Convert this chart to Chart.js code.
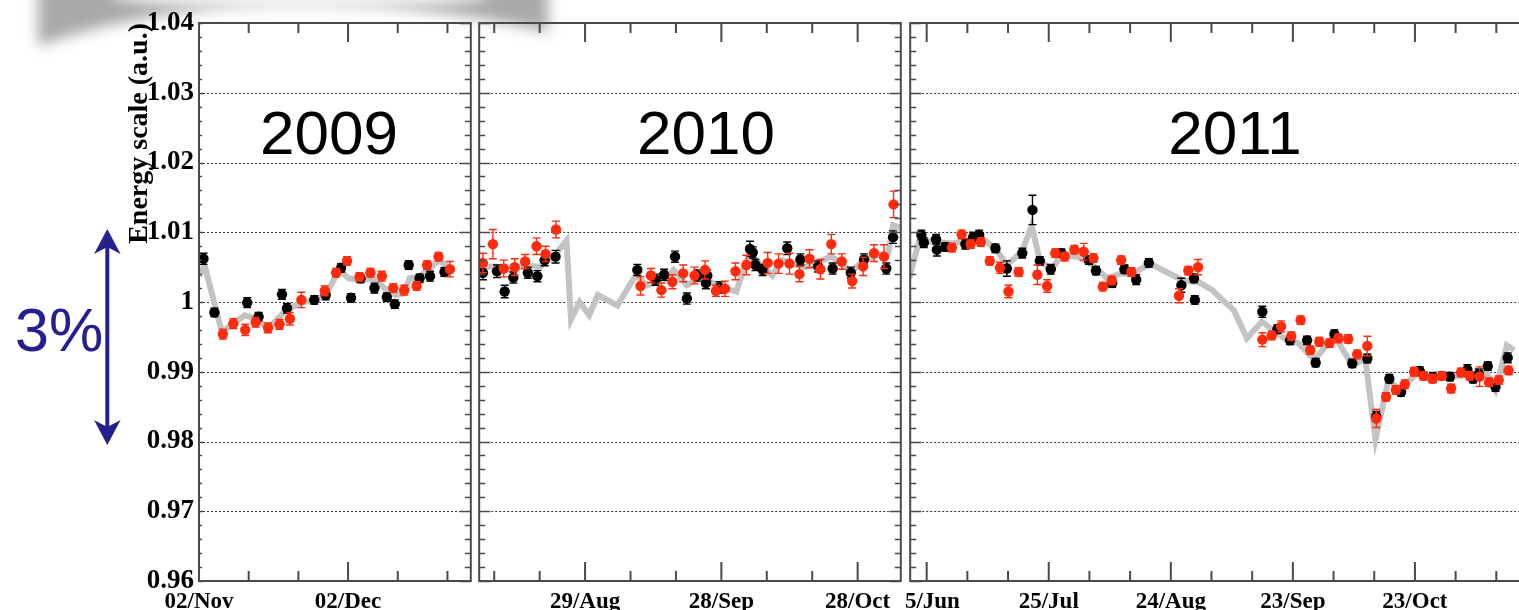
<!DOCTYPE html>
<html>
<head>
<meta charset="utf-8">
<title>Energy scale stability 2009–2011</title>
<script src="https://cdn.jsdelivr.net/npm/chart.js@4.4.1/dist/chart.umd.min.js"></script>
<style>
  html, body { margin: 0; padding: 0; background: #fff; }
  body { position: relative; width: 1519px; height: 610px; overflow: hidden; }
  .layer { position: absolute; top: 0; }
  canvas { position: absolute; top: 0; }
  .year { position: absolute; top: 102px; font: 62px "Liberation Sans", Arial, sans-serif; line-height: 62px; color: #000; transform: translateX(-50%); white-space: nowrap; }
  #spread { position: absolute; left: 15px; top: 300px; font: 61px "Liberation Sans", Arial, sans-serif; line-height: 61px; color: #24208e; }
</style>
</head>
<body>
<svg class="layer" width="640" height="110" style="left:0">
  <defs>
    <filter id="soft" x="-20%" y="-100%" width="140%" height="300%"><feGaussianBlur stdDeviation="7"/></filter>
    <filter id="softer" x="-20%" y="-200%" width="140%" height="500%"><feGaussianBlur stdDeviation="6"/></filter>
  </defs>
  <path d="M38 -20 H548 V32 Q430 4 300 4 Q160 4 38 46 Z" fill="#a9a9a9" filter="url(#soft)"/>
  <ellipse cx="300" cy="-4" rx="190" ry="12" fill="#ffffff" opacity="0.85" filter="url(#softer)"/>
</svg>

<canvas id="c2009" width="476" height="610" style="left:0px"></canvas>
<canvas id="c2010" width="432" height="610" style="left:474px"></canvas>
<canvas id="c2011" width="640" height="610" style="left:905px"></canvas>

<svg class="layer" width="140" height="610" style="left:0">
  <g fill="#24208e">
    <rect x="105.3" y="245" width="4" height="184"/>
    <polygon points="107.3,229 94,254 107.3,247 120.6,254"/>
    <polygon points="107.3,445 94,420 107.3,427 120.6,420"/>
  </g>
</svg>
<div id="spread">3%</div>
<div class="year" style="left:329px">2009</div>
<div class="year" style="left:706px">2010</div>
<div class="year" style="left:1235px">2011</div>

<script>
// ---- 2009 run: x = days after 02/Nov/2009 ----
const days2009Black  = [0.9, 3.1, 9.7, 12.0, 16.7, 17.7, 23.2, 25.5, 28.6, 30.6, 32.5, 35.3, 37.8, 39.4, 42.2, 44.4, 46.5, 49.4];
const scale2009Black = [1.0062, 0.9985, 0.9999, 0.9979, 1.0011, 0.9991, 1.0003, 1.0010, 1.0049, 1.0006, 1.0034, 1.0020, 1.0007, 0.9997, 1.0053, 1.0034, 1.0037, 1.0043];
const err2009Black   = [0.0008, 0.0006, 0.0007, 0.0006, 0.0007, 0.0007, 0.0006, 0.0007, 0.0006, 0.0006, 0.0006, 0.0007, 0.0006, 0.0006, 0.0006, 0.0006, 0.0007, 0.0006];
const days2009Red    = [4.8, 6.9, 9.3, 11.4, 13.9, 16.2, 18.3, 20.6, 25.3, 27.6, 29.8, 32.3, 34.5, 36.8, 39.1, 41.3, 43.8, 45.9, 48.2, 50.5];
const scale2009Red   = [0.9954, 0.9969, 0.9960, 0.9971, 0.9963, 0.9968, 0.9976, 1.0003, 1.0016, 1.0042, 1.0059, 1.0036, 1.0042, 1.0037, 1.0020, 1.0017, 1.0023, 1.0053, 1.0065, 1.0047];
const err2009Red     = [0.0007, 0.0007, 0.0008, 0.0007, 0.0007, 0.0007, 0.0009, 0.0011, 0.0007, 0.0006, 0.0006, 0.0006, 0.0006, 0.0007, 0.0006, 0.0007, 0.0006, 0.0006, 0.0006, 0.0011];
const days2009Ref    = [0, 1.1, 4.6, 9.2, 11.6, 13.9, 17.5, 20.2, 23.2, 25.5, 28.2, 30.1, 32.8, 34.8, 37.5, 39.5, 41.1, 42.4, 44.4, 46.7, 48.4, 50.7];
const scale2009Ref   = [1.0037, 1.0053, 0.9957, 0.9981, 0.9976, 0.9962, 0.9988, 0.9998, 1.0003, 1.0010, 1.0046, 1.0034, 1.0031, 1.0034, 1.0019, 1.0010, 1.0012, 1.0034, 1.0036, 1.0050, 1.0060, 1.0046];
const ticks2009Days  = [0, 30];
const ticks2009Text  = ['02/Nov', '02/Dec'];
const minor2009Days  = [10, 20, 40, 50];

// ---- 2010 run: x = days after 29/Aug/2010 ----
const days2010Black  = [-22.5, -19.4, -17.7, -15.8, -12.6, -10.5, -8.9, -6.5, 11.5, 15.5, 17.4, 19.8, 22.4, 24.7, 26.6, 26.9, 29.6, 36.3, 36.9, 37.5, 39.1, 44.5, 47.4, 51.3, 54.5, 58.5, 61.4, 66.3, 67.8];
const scale2010Black = [1.0042, 1.0044, 1.0015, 1.0035, 1.0042, 1.0037, 1.0060, 1.0065, 1.0046, 1.0032, 1.0039, 1.0065, 1.0005, 1.0038, 1.0027, 1.0038, 1.0021, 1.0076, 1.0071, 1.0053, 1.0046, 1.0077, 1.0061, 1.0051, 1.0048, 1.0042, 1.0061, 1.0048, 1.0093];
const err2010Black   = [0.0010, 0.0009, 0.0009, 0.0008, 0.0008, 0.0008, 0.0008, 0.0009, 0.0008, 0.0008, 0.0008, 0.0008, 0.0008, 0.0008, 0.0008, 0.0008, 0.0008, 0.0011, 0.0008, 0.0008, 0.0008, 0.0009, 0.0008, 0.0008, 0.0008, 0.0008, 0.0008, 0.0008, 0.0009];
const days2010Red    = [-22.5, -20.3, -17.9, -15.5, -13.2, -10.7, -8.7, -6.4, 12.2, 14.5, 16.8, 19.2, 21.6, 24.1, 26.4, 28.8, 30.8, 33.1, 35.5, 40.2, 42.6, 45.0, 47.2, 49.4, 51.8, 54.2, 56.5, 58.8, 61.2, 63.6, 65.8, 67.9];
const scale2010Red   = [1.0056, 1.0083, 1.0048, 1.0050, 1.0058, 1.0080, 1.0069, 1.0104, 1.0023, 1.0038, 1.0017, 1.0029, 1.0041, 1.0038, 1.0046, 1.0016, 1.0019, 1.0044, 1.0053, 1.0056, 1.0055, 1.0055, 1.0040, 1.0062, 1.0047, 1.0083, 1.0058, 1.0030, 1.0051, 1.0070, 1.0065, 1.0140];
const err2010Red     = [0.0014, 0.0021, 0.0012, 0.0012, 0.0010, 0.0012, 0.0011, 0.0012, 0.0013, 0.0010, 0.0010, 0.0010, 0.0012, 0.0012, 0.0013, 0.0008, 0.0011, 0.0012, 0.0014, 0.0015, 0.0014, 0.0015, 0.0011, 0.0013, 0.0014, 0.0014, 0.0011, 0.0010, 0.0013, 0.0012, 0.0017, 0.0019];
const days2010Ref    = [-23.4, -19.8, -15.8, -12.9, -10.0, -6.7, -4.1, -3.1, -1.2, 0.9, 2.8, 7.1, 11.1, 13.7, 17.3, 19.5, 22.4, 25.6, 29.6, 33.3, 35.5, 37.6, 41.2, 43.4, 48.5, 54.3, 58.7, 61.2, 64.5, 66.7, 67.8, 70.0];
const scale2010Ref   = [1.0050, 1.0051, 1.0046, 1.0053, 1.0050, 1.0067, 1.0088, 0.9975, 1.0000, 0.9981, 1.0010, 0.9995, 1.0038, 1.0024, 1.0031, 1.0046, 1.0024, 1.0036, 1.0022, 1.0015, 1.0058, 1.0060, 1.0038, 1.0060, 1.0050, 1.0065, 1.0043, 1.0060, 1.0067, 1.0070, 1.0110, 1.0105];
const ticks2010Days  = [0, 30, 60];
const ticks2010Text  = ['29/Aug', '28/Sep', '28/Oct'];
const minor2010Days  = [-20, -10, 10, 20, 40, 50];

// ---- 2011 run: x = days after 25/Jun/2011 ----
const days2011Black  = [-1.3, -0.7, 2.3, 2.5, 4.6, 9.5, 11.4, 12.9, 16.9, 19.7, 23.5, 26.0, 27.8, 30.5, 33.1, 39.9, 41.6, 45.6, 48.6, 51.5, 54.6, 62.6, 65.7, 65.9, 82.5, 86.2, 89.3, 93.5, 95.6, 100.2, 104.6, 108.3, 110.5, 113.7, 116.6, 121.2, 124.4, 128.6, 132.9, 134.3, 135.7, 137.9, 139.8, 142.8];
const scale2011Black = [1.0096, 1.0085, 1.0090, 1.0075, 1.0079, 1.0083, 1.0093, 1.0096, 1.0077, 1.0048, 1.0070, 1.0132, 1.0059, 1.0047, 1.0070, 1.0060, 1.0045, 1.0027, 1.0047, 1.0032, 1.0056, 1.0024, 1.0034, 1.0003, 0.9986, 0.9961, 0.9945, 0.9945, 0.9913, 0.9954, 0.9912, 0.9919, 0.9836, 0.9890, 0.9871, 0.9901, 0.9892, 0.9893, 0.9903, 0.9890, 0.9897, 0.9908, 0.9878, 0.9920];
const err2011Black   = [0.0007, 0.0007, 0.0007, 0.0009, 0.0006, 0.0007, 0.0007, 0.0007, 0.0006, 0.0011, 0.0007, 0.0021, 0.0006, 0.0007, 0.0006, 0.0006, 0.0006, 0.0006, 0.0006, 0.0007, 0.0006, 0.0010, 0.0006, 0.0006, 0.0008, 0.0006, 0.0006, 0.0006, 0.0006, 0.0006, 0.0006, 0.0006, 0.0007, 0.0006, 0.0006, 0.0006, 0.0007, 0.0006, 0.0007, 0.0006, 0.0007, 0.0006, 0.0006, 0.0007];
const days2011Red    = [6.2, 8.6, 10.8, 13.3, 15.5, 18.0, 20.1, 22.6, 27.2, 29.6, 31.6, 33.9, 36.3, 38.6, 41.0, 43.3, 45.5, 47.8, 50.3, 62.0, 64.3, 66.7, 82.5, 84.8, 87.1, 89.6, 91.9, 94.3, 96.5, 99.0, 101.2, 103.6, 105.8, 108.3, 110.5, 112.9, 115.3, 117.5, 119.8, 122.1, 124.3, 126.6, 128.9, 131.3, 133.5, 135.9, 138.2, 140.6, 143.0];
const scale2011Red   = [1.0078, 1.0097, 1.0083, 1.0086, 1.0059, 1.0049, 1.0015, 1.0043, 1.0039, 1.0023, 1.0070, 1.0065, 1.0075, 1.0072, 1.0063, 1.0022, 1.0031, 1.0060, 1.0043, 1.0009, 1.0045, 1.0050, 0.9946, 0.9952, 0.9965, 0.9951, 0.9974, 0.9931, 0.9943, 0.9941, 0.9948, 0.9947, 0.9925, 0.9937, 0.9833, 0.9864, 0.9874, 0.9882, 0.9900, 0.9894, 0.9890, 0.9894, 0.9876, 0.9899, 0.9894, 0.9893, 0.9885, 0.9888, 0.9902];
const err2011Red     = [0.0006, 0.0006, 0.0006, 0.0006, 0.0006, 0.0008, 0.0009, 0.0006, 0.0014, 0.0009, 0.0006, 0.0006, 0.0006, 0.0012, 0.0006, 0.0006, 0.0006, 0.0006, 0.0006, 0.0010, 0.0006, 0.0011, 0.0010, 0.0006, 0.0008, 0.0006, 0.0006, 0.0006, 0.0006, 0.0006, 0.0006, 0.0006, 0.0006, 0.0014, 0.0013, 0.0006, 0.0006, 0.0006, 0.0006, 0.0006, 0.0006, 0.0006, 0.0006, 0.0006, 0.0006, 0.0014, 0.0006, 0.0006, 0.0006];
const days2011Ref    = [-4.3, -1.7, 1.5, 6.4, 10.4, 13.7, 16.9, 19.7, 23.4, 25.8, 27.8, 30.6, 33.1, 37.1, 40.3, 44.4, 47.6, 50.8, 54.9, 58.9, 63.0, 67.0, 70.2, 72.7, 75.5, 78.7, 82.4, 85.6, 88.8, 91.3, 95.3, 100.2, 104.6, 107.8, 110.3, 113.5, 116.3, 120.4, 123.6, 128.5, 133.3, 137.4, 139.8, 142.6, 144.4];
const scale2011Ref   = [1.0034, 1.0091, 1.0086, 1.0084, 1.0089, 1.0091, 1.0077, 1.0053, 1.0072, 1.0109, 1.0060, 1.0046, 1.0067, 1.0065, 1.0055, 1.0034, 1.0041, 1.0041, 1.0055, 1.0043, 1.0031, 1.0028, 1.0017, 1.0003, 0.9988, 0.9948, 0.9972, 0.9957, 0.9945, 0.9941, 0.9917, 0.9952, 0.9909, 0.9919, 0.9803, 0.9888, 0.9874, 0.9897, 0.9893, 0.9893, 0.9895, 0.9900, 0.9874, 0.9938, 0.9931];
const ticks2011Days  = [0, 30, 60, 90, 120];
const ticks2011Text  = ['25/Jun', '25/Jul', '24/Aug', '23/Sep', '23/Oct'];
const minor2011Days  = [10, 20, 40, 50, 70, 80, 100, 110, 130, 140, 150];

// ---- shared axis values ----
const yMin = 0.96, yMax = 1.04;
const gridValues = [0.97, 0.98, 0.99, 1.00, 1.01, 1.02, 1.03];

const FRAME = '#4a4a4a';
const SERIF = '"Liberation Serif", "Times New Roman", serif';
const RED = '#ff2b0c';
const REF_GREY = '#c3c3c3';
const MARKER_R = 5.2;

function points(days, values) {
  return days.map((d, i) => ({ x: d, y: values[i] }));
}

// Dotted grid, error bars, frame and inward ticks
function panelDecor(p) {
  return {
    id: 'panelDecor',
    beforeDatasetsDraw(chart) {
      const { ctx, chartArea: a, scales: { y } } = chart;
      ctx.save();
      ctx.strokeStyle = '#3a3a3a';
      ctx.lineWidth = 1;
      ctx.setLineDash([2, 2]);
      gridValues.forEach(v => {
        const py = Math.round(y.getPixelForValue(v)) + 0.5;
        ctx.beginPath();
        ctx.moveTo(a.left, py);
        ctx.lineTo(a.right, py);
        ctx.stroke();
      });
      ctx.restore();
    },
    beforeDatasetDraw(chart, args) {
      const ds = chart.data.datasets[args.index];
      if (!ds.errors) return;
      const { ctx, chartArea: a, scales: { y } } = chart;
      ctx.save();
      ctx.beginPath();
      ctx.rect(a.left, a.top, a.right - a.left, a.bottom - a.top);
      ctx.clip();
      ctx.strokeStyle = ds.errorColor;
      ctx.lineWidth = 1.4;
      args.meta.data.forEach((pt, i) => {
        const v = ds.data[i].y, e = ds.errors[i];
        const hi = y.getPixelForValue(v + e), lo = y.getPixelForValue(v - e);
        ctx.beginPath();
        ctx.moveTo(pt.x, hi); ctx.lineTo(pt.x, lo);
        ctx.moveTo(pt.x - 4, hi); ctx.lineTo(pt.x + 4, hi);
        ctx.moveTo(pt.x - 4, lo); ctx.lineTo(pt.x + 4, lo);
        ctx.stroke();
      });
      ctx.restore();
    },
    afterDatasetsDraw(chart) {
      const { ctx, chartArea: a, scales: { x, y } } = chart;
      ctx.save();
      ctx.strokeStyle = FRAME;
      // x ticks, bottom and top, pointing inward
      ctx.lineWidth = 2;
      const xTick = (d, len) => {
        const px = x.getPixelForValue(d);
        if (px < a.left - 1 || px > a.right + 1) return;
        ctx.beginPath();
        ctx.moveTo(px, a.bottom); ctx.lineTo(px, a.bottom - len);
        ctx.moveTo(px, a.top); ctx.lineTo(px, a.top + len);
        ctx.stroke();
      };
      p.majorDays.forEach(d => xTick(d, 19));
      p.minorDays.forEach(d => xTick(d, 10));
      // y ticks on both sides, pointing inward
      ctx.lineWidth = 1.5;
      for (let k = 0; k <= 40; k++) {
        const major = k % 5 === 0;
        const py = Math.round(y.getPixelForValue(yMin + k * 0.002)) + 0.5;
        const lenL = major ? p.leftMajor : p.leftMinor;
        const lenR = major ? 11 : 6;
        ctx.beginPath();
        ctx.moveTo(a.left, py); ctx.lineTo(a.left + lenL, py);
        ctx.moveTo(a.right, py); ctx.lineTo(a.right - lenR, py);
        ctx.stroke();
      }
      // frame
      ctx.lineWidth = 2;
      ctx.strokeRect(a.left, a.top, a.right - a.left, a.bottom - a.top);
      ctx.restore();
    }
  };
}

function makePanel(p) {
  return new Chart(document.getElementById(p.canvas), {
    type: 'scatter',
    data: {
      datasets: [
        {
          type: 'line',
          data: points(p.refDays, p.refScale),
          borderColor: REF_GREY,
          borderWidth: 6,
          borderJoinStyle: 'miter',
          pointRadius: 0,
          tension: 0,
          fill: false,
          order: 3
        },
        {
          data: points(p.blackDays, p.blackScale),
          errors: p.blackErr,
          errorColor: '#000',
          backgroundColor: '#000',
          borderWidth: 0,
          pointBorderWidth: 0,
          pointRadius: MARKER_R,
          order: 2
        },
        {
          data: points(p.redDays, p.redScale),
          errors: p.redErr,
          errorColor: RED,
          backgroundColor: RED,
          borderWidth: 0,
          pointBorderWidth: 0,
          pointRadius: MARKER_R,
          order: 1
        }
      ]
    },
    options: {
      responsive: false,
      animation: false,
      events: [],
      devicePixelRatio: 1,
      layout: { padding: p.padding },
      plugins: { legend: { display: false }, tooltip: { enabled: false } },
      scales: {
        x: {
          type: 'linear',
          min: p.xMin,
          max: p.xMax,
          grid: { display: false, drawTicks: false },
          border: { display: false },
          afterBuildTicks: s => { s.ticks = p.majorDays.map(v => ({ value: v })); },
          afterFit: s => { s.height = 29; s.paddingLeft = 0; s.paddingRight = 0; },
          ticks: {
            autoSkip: false,
            maxRotation: 0,
            padding: 7,
            color: '#000',
            font: { family: SERIF, weight: 'bold', size: 23 },
            callback: (v, i) => p.majorText[i]
          }
        },
        y: {
          type: 'linear',
          min: yMin,
          max: yMax,
          display: p.showY,
          grid: { display: false, drawTicks: false },
          border: { display: false },
          afterFit: s => { s.width = p.showY ? 199 : 0; s.paddingTop = 0; s.paddingBottom = 0; },
          ticks: {
            stepSize: 0.01,
            padding: 5,
            color: '#000',
            font: { family: SERIF, weight: 'bold', size: 27 },
            callback: v => (Math.abs(v - 1) < 1e-9 ? '1' : v.toFixed(2))
          },
          title: {
            display: true,
            text: 'Energy scale (a.u.)',
            align: 'end',
            color: '#000',
            padding: { top: 123, bottom: 0 },
            font: { family: SERIF, weight: 'bold', size: 28 }
          }
        }
      }
    },
    plugins: [panelDecor(p)]
  });
}

makePanel({
  canvas: 'c2009', showY: true,
  padding: { top: 23, left: 0, right: 3, bottom: 0 },
  xMin: 0, xMax: 54.7,
  majorDays: ticks2009Days, majorText: ticks2009Text, minorDays: minor2009Days,
  leftMajor: 4, leftMinor: 3,
  refDays: days2009Ref, refScale: scale2009Ref,
  blackDays: days2009Black, blackScale: scale2009Black, blackErr: err2009Black,
  redDays: days2009Red, redScale: scale2009Red, redErr: err2009Red
});

makePanel({
  canvas: 'c2010', showY: false,
  padding: { top: 23, left: 3, right: 3, bottom: 0 },
  xMin: -23.31, xMax: 69.5,
  majorDays: ticks2010Days, majorText: ticks2010Text, minorDays: minor2010Days,
  leftMajor: 11, leftMinor: 6,
  refDays: days2010Ref, refScale: scale2010Ref,
  blackDays: days2010Black, blackScale: scale2010Black, blackErr: err2010Black,
  redDays: days2010Red, redScale: scale2010Red, redErr: err2010Red
});

makePanel({
  canvas: 'c2011', showY: false,
  padding: { top: 23, left: 2, right: 0, bottom: 0 },
  xMin: -4.05, xMax: 150.69,
  majorDays: ticks2011Days, majorText: ticks2011Text, minorDays: minor2011Days,
  leftMajor: 11, leftMinor: 6,
  refDays: days2011Ref, refScale: scale2011Ref,
  blackDays: days2011Black, blackScale: scale2011Black, blackErr: err2011Black,
  redDays: days2011Red, redScale: scale2011Red, redErr: err2011Red
});
</script>
</body>
</html>
